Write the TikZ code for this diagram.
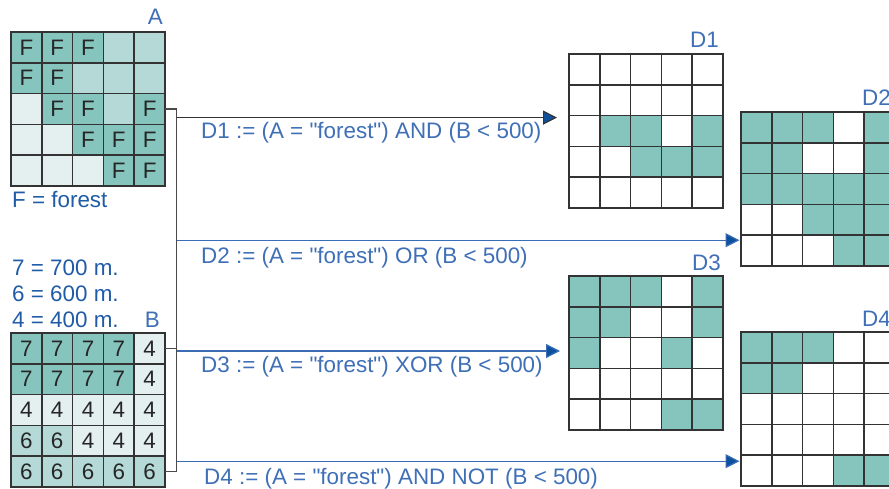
\documentclass[tikz,border=0pt]{standalone}
\usepackage{fontspec}
\setmainfont{Liberation Sans}
\usetikzlibrary{arrows.meta,positioning}

\definecolor{tdark}{HTML}{86C5BE}
\definecolor{tmid}{HTML}{B4D9D6}
\definecolor{tlight}{HTML}{E4F0EF}
\definecolor{gridline}{HTML}{333333}
\definecolor{busgray}{HTML}{4A4A4A}
\definecolor{lblblue}{HTML}{3F6FB6}
\definecolor{legblue}{HTML}{1F5BA6}
\definecolor{lineblue}{HTML}{3A6DB5}
\definecolor{arrowblue}{HTML}{0D519E}
% fill colour of each cell code
\colorlet{cF}{tdark}
\colorlet{cm}{tmid}
\colorlet{cl}{tlight}
\colorlet{c7}{tdark}
\colorlet{c6}{tmid}
\colorlet{c4}{tlight}
\colorlet{c1}{tdark}
\colorlet{c0}{white}

\newcommand{\lblfont}{\fontsize{22.4}{26}\selectfont}
\newcommand{\forest}{\textquotedbl forest\textquotedbl}

\tikzset{
  cell/.style={draw=gridline, line width=1.5pt, minimum size=30.8pt, inner sep=0pt,
    outer sep=0pt, text=black!85, font=\lblfont},
  gridlbl/.style={text=lblblue, font=\lblfont, inner sep=0pt, anchor=base east},
  legend/.style={text=legblue, font=\lblfont, inner sep=0pt, anchor=base west},
  optext/.style={text=lblblue, font=\lblfont, inner sep=0pt, anchor=base west},
  bus/.style={draw=busgray, line width=1.4pt},
  oparrow/.style={draw=lineblue, line width=1.2pt,
    -{Triangle[length=14pt,width=14pt,fill=arrowblue]}},
}

% name, left, top, cell text, rows
\newcommand{\cellgrid}[5]{%
  \foreach \row [count=\ri] in {#5} {
    \foreach \v [count=\ci] in \row {
      \node[cell, fill=c\v] (#1-\ri-\ci) at ({#2+(\ci-0.5)*30.8}, {#3+(\ri-0.5)*30.8}) {#4};
    }
  }%
}

\begin{document}
\begin{tikzpicture}[x=1pt, y=-1pt]
    \clip (0,0) rectangle (889,489);
    % Grid A
    \cellgrid{A}{11}{32}{\if\v FF\fi}{{F,F,F,m,m},{F,F,m,m,m},{l,F,F,m,F},{l,l,F,F,F},{l,l,l,F,F}}
    \node[gridlbl] (labA) at ([xshift=-2pt,yshift=7pt]A-1-5.north east) {A};
    \node[legend] (legA) at ([xshift=1pt,yshift=-22pt]A-5-1.south west) {F = forest};
    % Grid B
    \cellgrid{B}{11}{333}{\v}{{7,7,7,7,4},{7,7,7,7,4},{4,4,4,4,4},{6,6,4,4,4},{6,6,6,6,6}}
    \node[gridlbl] (labB) at ([xshift=-5pt,yshift=6pt]B-1-5.north east) {B};
    \node[legend] (leg4) at ([xshift=1pt,yshift=6pt]B-1-1.north west) {4 = 400 m.};
    \node[legend] (leg6) at ([yshift=25.5pt]leg4.base west) {6 = 600 m.};
    \node[legend] (leg7) at ([yshift=26pt]leg6.base west) {7 = 700 m.};
    % Results
    \cellgrid{D1}{569}{54}{}{{0,0,0,0,0},{0,0,0,0,0},{0,1,1,0,1},{0,0,1,1,1},{0,0,0,0,0}}
    \cellgrid{D2}{741}{112}{}{{1,1,1,0,1},{1,1,0,0,1},{1,1,1,1,1},{0,0,1,1,1},{0,0,0,1,1}}
    \cellgrid{D3}{569}{276}{}{{1,1,1,0,1},{1,1,0,0,1},{1,0,0,1,0},{0,0,0,0,0},{0,0,0,1,1}}
    \cellgrid{D4}{741}{332}{}{{1,1,1,0,0},{1,1,0,0,0},{0,0,0,0,0},{0,0,0,0,0},{0,0,0,1,1}}
    \node[gridlbl] (labD1) at ([xshift=-4pt,yshift=6pt]D1-1-5.north east) {D1};
    \node[gridlbl] (labD2) at ([xshift=-4pt,yshift=6pt]D2-1-5.north east) {D2};
    \node[gridlbl] (labD3) at ([xshift=-2pt,yshift=6pt]D3-1-5.north east) {D3};
    \node[gridlbl] (labD4) at ([xshift=-4pt,yshift=6pt]D4-1-5.north east) {D4};
    % Bus from A and B
    \draw[bus] (A-3-5.east) -- ++(11.5,0) coordinate (busTop) |- (B-5-5.east);
    \draw[bus] (B-1-5.east) -- (busTop |- B-1-5.east);
    % Arrows
    \coordinate (t1) at ([xshift=-12pt,yshift=-2pt]D1-3-1.north west);
    \coordinate (t2) at ([xshift=-1.5pt,yshift=-5pt]D2-5-1.north west);
    \coordinate (t3) at ([xshift=-9pt,yshift=2pt]D3-3-1.west);
    \coordinate (t4) at ([xshift=-1.5pt,yshift=-6pt]D4-5-1.north west);
    \draw[oparrow, draw=gridline] (busTop |- t1) -- (t1);
    \draw[oparrow] (busTop |- t2) -- (t2);
    \draw[oparrow] (busTop |- t3) -- (t3);
    \draw[oparrow] (busTop |- t4) -- (t4);
    \node[optext] (op1) at (201,139) {D1 := (A = \forest) AND (B < 500)};
    \node[optext] (op2) at (201,264) {D2 := (A = \forest) OR (B < 500)};
    \node[optext] (op3) at (201,372) {D3 := (A = \forest) XOR (B < 500)};
    \node[optext] (op4) at (204,484) {D4 := (A = \forest) AND NOT (B < 500)};
\end{tikzpicture}
\end{document}
